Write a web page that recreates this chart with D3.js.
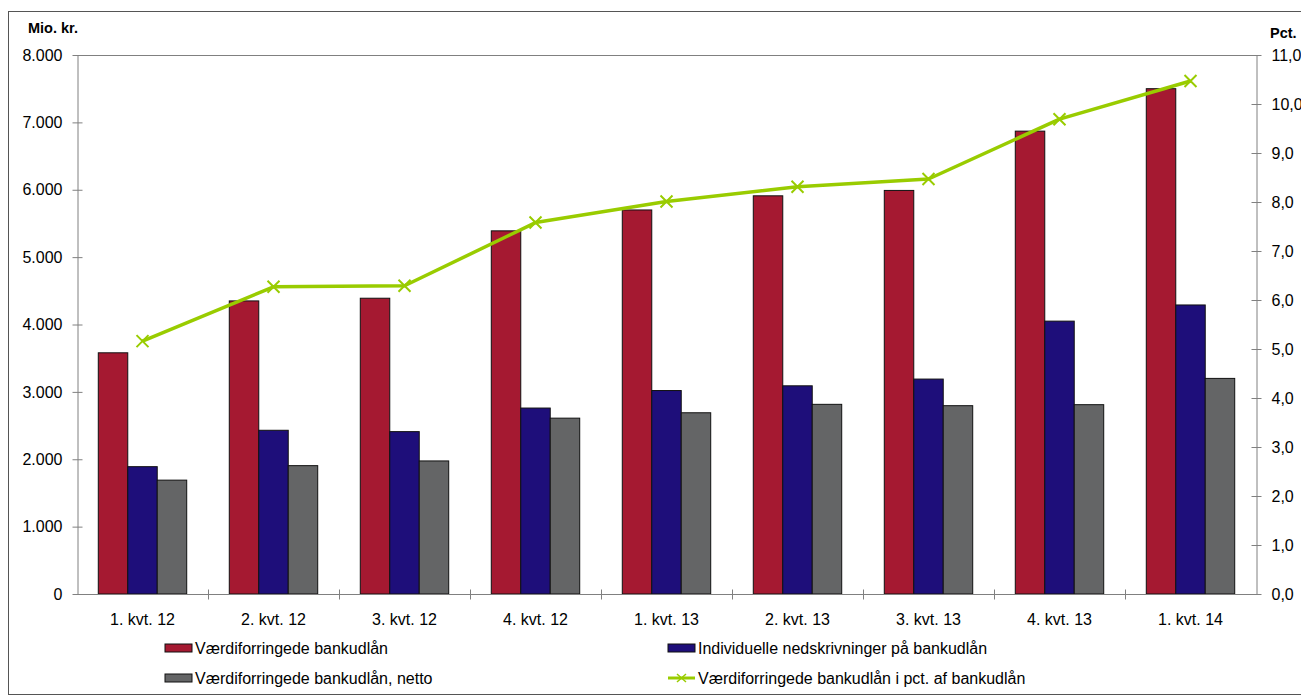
<!DOCTYPE html>
<html>
<head>
<meta charset="utf-8">
<script src="https://cdn.jsdelivr.net/npm/d3@7"></script>
<style>
  body { margin: 0; background: #fff; }
  text { font-family: Arial, 'Liberation Sans', sans-serif; fill: #000; }
</style>
</head>
<body>
<svg id="chart" width="1301" height="697"></svg>
<script>
// data
const categories = ['1. kvt. 12', '2. kvt. 12', '3. kvt. 12', '4. kvt. 12', '1. kvt. 13', '2. kvt. 13', '3. kvt. 13', '4. kvt. 13', '1. kvt. 14']
const vaerdiforringede = [3580, 4350, 4390, 5390, 5700, 5910, 5990, 6870, 7500]
const individuelle = [1890, 2430, 2410, 2760, 3020, 3090, 3190, 4050, 4290]
const netto = [1690, 1905, 1975, 2610, 2690, 2815, 2795, 2810, 3200]
const pctAfUdlaan = [5.16, 6.27, 6.29, 7.58, 8.01, 8.31, 8.47, 9.69, 10.47]
const leftTicks = [0, 1000, 2000, 3000, 4000, 5000, 6000, 7000, 8000]
const rightTicks = [0, 1, 2, 3, 4, 5, 6, 7, 8, 9, 10, 11]

const barSeries = [
  { name: 'Værdiforringede bankudlån', values: vaerdiforringede, color: '#A51931' },
  { name: 'Individuelle nedskrivninger på bankudlån', values: individuelle, color: '#1E0E7A' },
  { name: 'Værdiforringede bankudlån, netto', values: netto, color: '#646566' }
]
const lineColor = '#99CC00'

const svg = d3.select('#chart')
const m = { left: 77, right: 1256, top: 55, bottom: 594 }
const axisColor = '#808080'

const numFmt = d3.formatLocale({ decimal: ',', thousands: '.', grouping: [3], currency: ['', ''] })
const fmtLeft = numFmt.format(',.0f')
const fmtRight = numFmt.format('.1f')

// outer frame (runs off the right edge, like the original)
svg.append('rect')
  .attr('x', 8.5).attr('y', 11.5)
  .attr('width', 1320).attr('height', 683)
  .attr('fill', 'none').attr('stroke', '#555').attr('stroke-width', 1)

const x = d3.scaleBand().domain(categories).range([m.left, m.right]).paddingInner(0.325).paddingOuter(0.1625)
const xs = d3.scaleBand().domain(barSeries.map(s => s.name)).range([0, x.bandwidth()])
const yL = d3.scaleLinear().domain([0, 8000]).range([m.bottom, m.top])
const yR = d3.scaleLinear().domain([0, 11]).range([m.bottom, m.top])

// plot top border
svg.append('line')
  .attr('x1', m.left).attr('x2', m.right)
  .attr('y1', m.top + 0.5).attr('y2', m.top + 0.5)
  .attr('stroke', axisColor)

// bars
const groups = svg.append('g').selectAll('g')
  .data(categories)
  .join('g')
  .attr('transform', d => `translate(${x(d)},0)`)

groups.selectAll('rect')
  .data((c, i) => barSeries.map(s => ({ s, v: s.values[i] })))
  .join('rect')
  .attr('x', d => xs(d.s.name))
  .attr('y', d => yL(d.v))
  .attr('width', xs.bandwidth())
  .attr('height', d => yL(0) - yL(d.v))
  .attr('fill', d => d.s.color)
  .attr('stroke', '#111')
  .attr('stroke-width', 1)

// left axis
const leftAxis = svg.append('g')
  .attr('transform', `translate(${m.left + 0.5},0)`)
  .call(d3.axisLeft(yL).tickValues(leftTicks).tickFormat(fmtLeft).tickSizeInner(5).tickSizeOuter(0).tickPadding(10))
leftAxis.select('.domain').attr('stroke', axisColor)
leftAxis.selectAll('.tick line').attr('stroke', axisColor).attr('x1', 5)
leftAxis.selectAll('.tick text').style('font-size', '16px').attr('fill', '#000')

// right axis
const rightAxis = svg.append('g')
  .attr('transform', `translate(${m.right + 0.5},0)`)
  .call(d3.axisRight(yR).tickValues(rightTicks).tickFormat(fmtRight).tickSizeInner(5).tickSizeOuter(0).tickPadding(10))
rightAxis.select('.domain').attr('stroke', axisColor)
rightAxis.selectAll('.tick line').attr('stroke', axisColor).attr('x1', -5)
rightAxis.selectAll('.tick text').style('font-size', '16px').attr('fill', '#000')

// x axis with ticks between categories
const xAxisG = svg.append('g').attr('transform', `translate(0,${m.bottom + 0.5})`)
xAxisG.append('line').attr('x1', m.left).attr('x2', m.right).attr('stroke', axisColor)
xAxisG.selectAll('.sep')
  .data(categories.slice(1))
  .join('line')
  .attr('class', 'sep')
  .attr('x1', d => Math.round(x(d) - x.step() * x.paddingInner() / 2) + 0.5)
  .attr('x2', d => Math.round(x(d) - x.step() * x.paddingInner() / 2) + 0.5)
  .attr('y1', -5).attr('y2', 5)
  .attr('stroke', axisColor)
xAxisG.selectAll('.lbl')
  .data(categories)
  .join('text')
  .attr('class', 'lbl')
  .attr('x', d => x(d) + x.bandwidth() / 2)
  .attr('y', 25)
  .attr('dy', '0.35em')
  .attr('text-anchor', 'middle')
  .style('font-size', '16px')
  .text(d => d)

// axis titles
svg.append('text').attr('x', 28).attr('y', 33).style('font-size', '14.5px').style('font-weight', 'bold').text('Mio. kr.')
svg.append('text').attr('x', 1270).attr('y', 38).style('font-size', '14.5px').style('font-weight', 'bold').text('Pct.')

// line on right axis
const cx = d => x(d) + x.bandwidth() / 2
const linePts = categories.map((c, i) => [cx(c), yR(pctAfUdlaan[i])])
svg.append('path')
  .datum(linePts)
  .attr('d', d3.line())
  .attr('fill', 'none')
  .attr('stroke', lineColor)
  .attr('stroke-width', 3.5)
  .attr('stroke-linejoin', 'round')

const mk = 6
const markerPath = (px, py) => `M${px - mk},${py - mk}L${px + mk},${py + mk}M${px - mk},${py + mk}L${px + mk},${py - mk}`
svg.append('g').selectAll('path')
  .data(linePts)
  .join('path')
  .attr('d', d => markerPath(d[0], d[1]))
  .attr('stroke', lineColor)
  .attr('stroke-width', 2)

// legend
const legendItems = [
  { name: barSeries[0].name, color: barSeries[0].color, type: 'bar', x: 165, y: 648 },
  { name: barSeries[1].name, color: barSeries[1].color, type: 'bar', x: 668, y: 648 },
  { name: barSeries[2].name, color: barSeries[2].color, type: 'bar', x: 165, y: 678 },
  { name: 'Værdiforringede bankudlån i pct. af bankudlån', color: lineColor, type: 'line', x: 668, y: 678 }
]
const leg = svg.append('g').selectAll('g')
  .data(legendItems)
  .join('g')
  .attr('transform', d => `translate(${d.x},${d.y})`)

leg.filter(d => d.type === 'bar').append('rect')
  .attr('x', 0).attr('y', -4).attr('width', 27).attr('height', 8)
  .attr('fill', d => d.color).attr('stroke', '#111')
leg.filter(d => d.type === 'line').append('line')
  .attr('x1', 0).attr('x2', 27).attr('y1', 0).attr('y2', 0)
  .attr('stroke', d => d.color).attr('stroke-width', 3)
leg.filter(d => d.type === 'line').append('path')
  .attr('d', 'M9,-4L18,4M9,4L18,-4')
  .attr('stroke', d => d.color).attr('stroke-width', 1.5)
leg.append('text')
  .attr('x', 30).attr('y', 0).attr('dy', '0.35em')
  .style('font-size', '16px')
  .text(d => d.name)
</script>
</body>
</html>
